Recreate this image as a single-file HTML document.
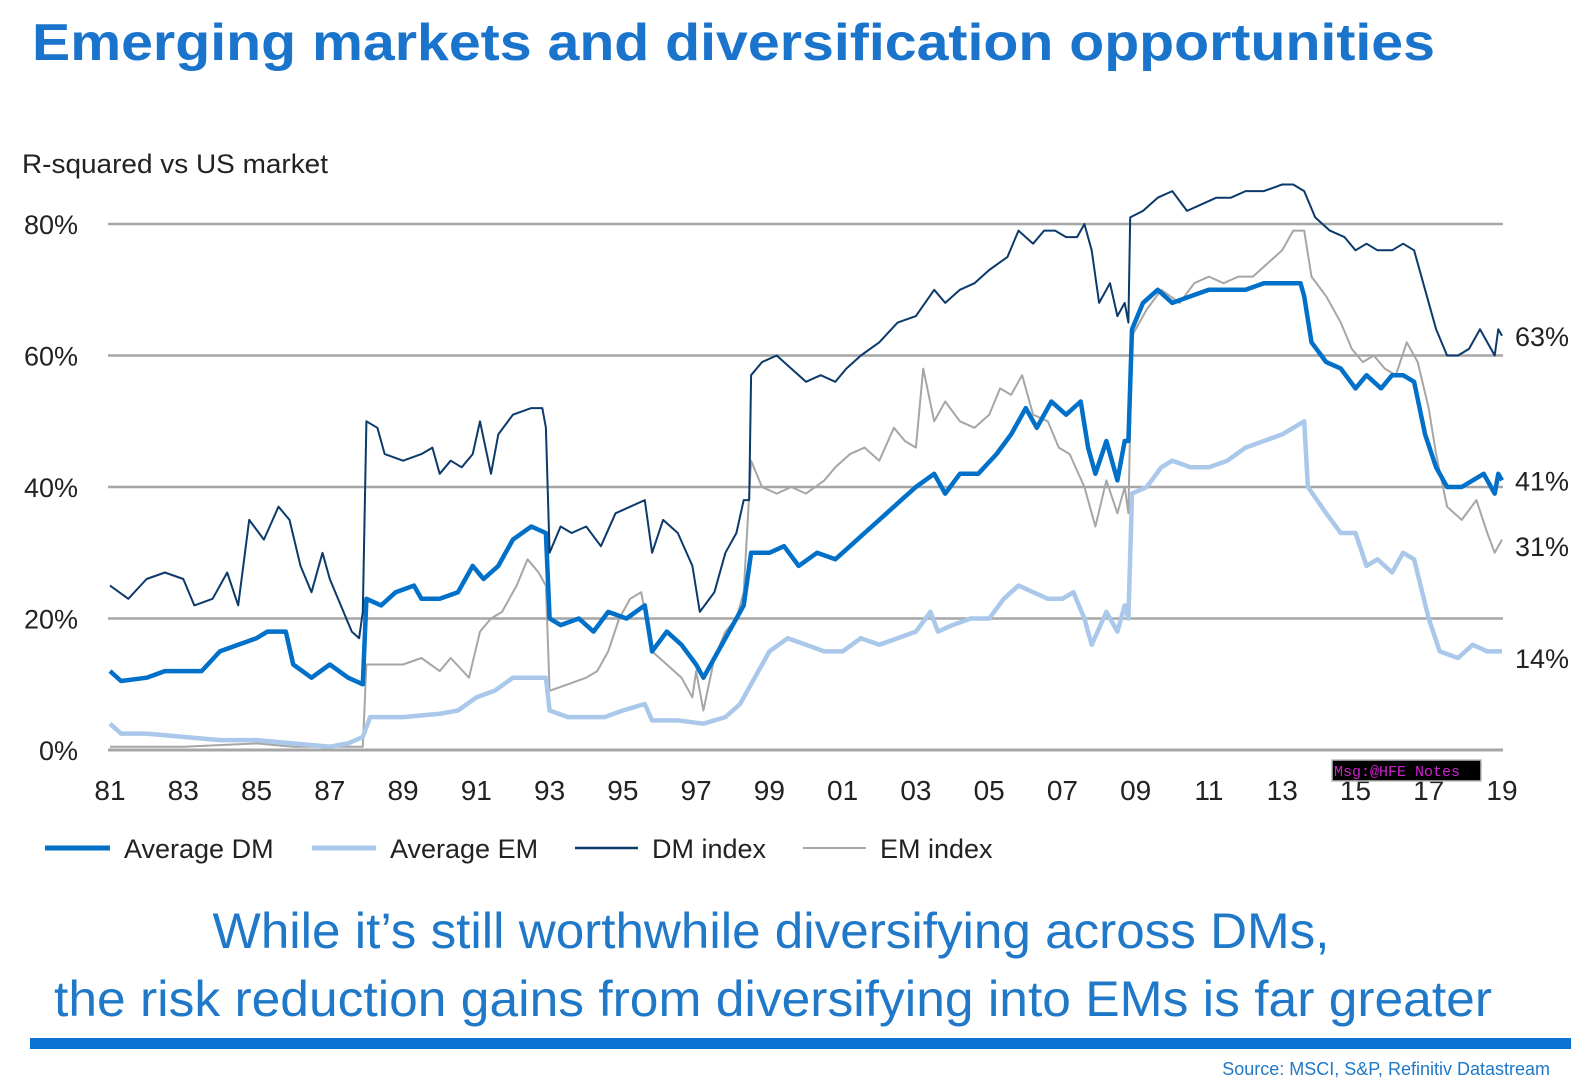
<!DOCTYPE html>
<html><head><meta charset="utf-8"><style>
html,body{margin:0;padding:0;background:#fff;width:1571px;height:1088px;overflow:hidden}
svg{display:block}
text{font-family:"Liberation Sans",sans-serif}
</style></head><body>
<svg id="chart" width="1571" height="1088" xmlns="http://www.w3.org/2000/svg">
<text x="32" y="60" font-size="52" font-weight="bold" fill="#1a74cc" textLength="1403" lengthAdjust="spacingAndGlyphs">Emerging markets and diversification opportunities</text>
<text x="22" y="173" font-size="27" fill="#222" textLength="306" lengthAdjust="spacingAndGlyphs">R-squared vs US market</text>
<g id="grid"></g>
<g id="yticks"></g>
<g id="xticks"></g>
<g id="series"></g>
<g id="endlabels"></g>
<g>
<line x1="45" y1="848" x2="110" y2="848" stroke="#0070c8" stroke-width="5"/>
<text x="124" y="858" font-size="27" fill="#222">Average DM</text>
<line x1="312" y1="848" x2="376" y2="848" stroke="#a9c8ea" stroke-width="5"/>
<text x="390" y="858" font-size="27" fill="#222">Average EM</text>
<line x1="575" y1="848" x2="638" y2="848" stroke="#0b3a6b" stroke-width="2.5"/>
<text x="652" y="858" font-size="27" fill="#222">DM index</text>
<line x1="803" y1="848" x2="866" y2="848" stroke="#a6a6a6" stroke-width="2"/>
<text x="880" y="858" font-size="27" fill="#222">EM index</text>
</g>
<rect x="1332" y="760" width="149" height="21" fill="#000" stroke="#bbb" stroke-width="1.5"/>
<text x="1334" y="776" font-size="15" fill="#d020d0" style="font-family:'Liberation Mono',monospace">Msg:@HFE Notes</text>
<text x="771" y="948" text-anchor="middle" font-size="50" fill="#1f78c8" textLength="1117" lengthAdjust="spacingAndGlyphs">While it’s still worthwhile diversifying across DMs,</text>
<text x="773" y="1016" text-anchor="middle" font-size="50" fill="#1f78c8" textLength="1438" lengthAdjust="spacingAndGlyphs">the risk reduction gains from diversifying into EMs is far greater</text>
<rect x="30" y="1038" width="1541" height="11" fill="#0a72d0"/>
<text x="1550" y="1075" text-anchor="end" font-size="18" fill="#1f78c8">Source: MSCI, S&amp;P, Refinitiv Datastream</text>
</svg>
<script>
const yTickVals=[0,20,40,60,80];
const xTickYears=[1981,1983,1985,1987,1989,1991,1993,1995,1997,1999,2001,2003,2005,2007,2009,2011,2013,2015,2017,2019];
const xTickLabels=["81","83","85","87","89","91","93","95","97","99","01","03","05","07","09","11","13","15","17","19"];
const endLabelVals=[63,41,31,14];
const endLabelText=["63%","41%","31%","14%"];

const dmIdxYears=[1981,1981.5,1982,1982.5,1983,1983.3,1983.8,1984.2,1984.5,1984.8,1985.2,1985.6,1985.9,1986.2,1986.5,1986.8,1987,1987.3,1987.6,1987.8,1987.9,1988,1988.3,1988.5,1989,1989.5,1989.8,1990,1990.3,1990.6,1990.9,1991.1,1991.4,1991.6,1992,1992.5,1992.8,1992.9,1993,1993.3,1993.6,1994,1994.4,1994.8,1995.2,1995.6,1995.8,1996.1,1996.5,1996.9,1997.1,1997.5,1997.8,1998.1,1998.3,1998.45,1998.5,1998.8,1999.2,1999.6,2000,2000.4,2000.8,2001.1,2001.5,2002,2002.5,2003,2003.5,2003.8,2004.2,2004.6,2005,2005.5,2005.8,2006.2,2006.5,2006.8,2007.1,2007.4,2007.6,2007.8,2008,2008.3,2008.5,2008.7,2008.8,2008.85,2009.2,2009.6,2010,2010.4,2010.8,2011.2,2011.6,2012,2012.5,2013,2013.3,2013.6,2013.9,2014.3,2014.7,2015,2015.3,2015.6,2016,2016.3,2016.6,2016.9,2017.2,2017.5,2017.8,2018.1,2018.4,2018.8,2018.9,2019];
const dmIdxVals=[25,23,26,27,26,22,23,27,22,35,32,37,35,28,24,30,26,22,18,17,21,50,49,45,44,45,46,42,44,43,45,50,42,48,51,52,52,49,30,34,33,34,31,36,37,38,30,35,33,28,21,24,30,33,38,38,57,59,60,58,56,57,56,58,60,62,65,66,70,68,70,71,73,75,79,77,79,79,78,78,80,76,68,71,66,68,65,81,82,84,85,82,83,84,84,85,85,86,86,85,81,79,78,76,77,76,76,77,76,70,64,60,60,61,64,60,64,63];

const avgDmYears=[1981,1981.3,1982,1982.5,1983,1983.5,1984,1984.5,1985,1985.3,1985.8,1986,1986.5,1987,1987.5,1987.9,1988,1988.4,1988.8,1989.3,1989.5,1990,1990.5,1990.9,1991.2,1991.6,1992,1992.5,1992.9,1993,1993.3,1993.8,1994.2,1994.6,1995.1,1995.6,1995.8,1996.2,1996.6,1997,1997.2,1997.6,1998,1998.3,1998.5,1999,1999.4,1999.8,2000.3,2000.8,2001.2,2001.6,2002.2,2002.6,2003,2003.5,2003.8,2004.2,2004.7,2005.2,2005.6,2006,2006.3,2006.7,2007.1,2007.5,2007.7,2007.9,2008.2,2008.5,2008.7,2008.8,2008.9,2009.2,2009.6,2010,2010.5,2011,2011.5,2012,2012.5,2013,2013.5,2013.6,2013.8,2014.2,2014.6,2015,2015.3,2015.7,2016,2016.3,2016.6,2016.9,2017.2,2017.5,2017.9,2018.2,2018.5,2018.8,2018.9,2019];
const avgDmVals=[12,10.5,11,12,12,12,15,16,17,18,18,13,11,13,11,10,23,22,24,25,23,23,24,28,26,28,32,34,33,20,19,20,18,21,20,22,15,18,16,13,11,15,19,22,30,30,31,28,30,29,31,33,36,38,40,42,39,42,42,45,48,52,49,53,51,53,46,42,47,41,47,47,64,68,70,68,69,70,70,70,71,71,71,69,62,59,58,55,57,55,57,57,56,48,43,40,40,41,42,39,42,41];

const avgEmYears=[1981,1981.3,1982,1983,1984,1985,1986,1987,1987.5,1987.9,1988.1,1989,1990,1990.5,1991,1991.5,1992,1992.9,1993,1993.5,1994.5,1995,1995.6,1995.8,1996.5,1997.2,1997.8,1998.2,1998.4,1998.5,1999,1999.5,2000,2000.5,2001,2001.5,2002,2002.5,2003,2003.4,2003.6,2004,2004.5,2005,2005.4,2005.8,2006.2,2006.6,2007,2007.3,2007.6,2007.8,2008.2,2008.5,2008.7,2008.8,2008.9,2009.3,2009.7,2010,2010.5,2011,2011.5,2012,2012.5,2013,2013.6,2013.7,2014.2,2014.6,2015,2015.3,2015.6,2016,2016.3,2016.6,2017,2017.3,2017.8,2018.2,2018.6,2019];
const avgEmVals=[4,2.5,2.5,2,1.5,1.5,1,0.5,1,2,5,5,5.5,6,8,9,11,11,6,5,5,6,7,4.5,4.5,4,5,7,9,10,15,17,16,15,15,17,16,17,18,21,18,19,20,20,23,25,24,23,23,24,20,16,21,18,22,20,39,40,43,44,43,43,44,46,47,48,50,40,36,33,33,28,29,27,30,29,20,15,14,16,15,15];

const emIdxYears=[1981,1983,1985,1986,1987,1987.9,1988,1988.5,1989,1989.5,1990,1990.3,1990.8,1991.1,1991.4,1991.7,1992.1,1992.4,1992.7,1992.9,1993,1993.5,1994,1994.3,1994.6,1994.9,1995.2,1995.5,1995.8,1996.2,1996.6,1996.9,1997,1997.2,1997.5,1997.8,1998.1,1998.3,1998.5,1998.8,1999.2,1999.6,2000,2000.5,2000.8,2001.2,2001.6,2002,2002.4,2002.7,2003,2003.2,2003.5,2003.8,2004.2,2004.6,2005,2005.3,2005.6,2005.9,2006.2,2006.6,2006.9,2007.2,2007.6,2007.9,2008.2,2008.5,2008.7,2008.8,2008.9,2009.3,2009.7,2010.2,2010.6,2011,2011.4,2011.8,2012.2,2012.6,2013,2013.3,2013.6,2013.8,2014.2,2014.6,2014.9,2015.2,2015.5,2015.8,2016.1,2016.4,2016.7,2017,2017.2,2017.5,2017.9,2018.3,2018.6,2018.8,2019];
const emIdxVals=[0.5,0.5,1,0.5,0.5,0.5,13,13,13,14,12,14,11,18,20,21,25,29,27,25,9,10,11,12,15,20,23,24,15,13,11,8,12,6,14,18,20,24,44,40,39,40,39,41,43,45,46,44,49,47,46,58,50,53,50,49,51,55,54,57,51,50,46,45,40,34,41,36,40,36,63,67,70,68,71,72,71,72,72,74,76,79,79,72,69,65,61,59,60,58,57,62,59,52,45,37,35,38,33,30,32];

const NS='http://www.w3.org/2000/svg';
function xScale(yr){return 110+(yr-1981)*(1392/38);}
function yScale(v){return 750-v*(526/80);}
function mk(tag,parent){const e=document.createElementNS(NS,tag);parent.appendChild(e);return e;}

const grid=document.getElementById('grid');
const yt=document.getElementById('yticks');
yTickVals.forEach(v=>{
  const l=mk('line',grid);
  
  
  l.setAttribute('x1',108);l.setAttribute('x2',1503);
  l.setAttribute('y1',yScale(v));l.setAttribute('y2',yScale(v));
  l.setAttribute('stroke','#a6a6a6');l.setAttribute('stroke-width',v===0?3:2.5);
  const t=mk('text',yt);
  
  
  t.setAttribute('x',78);t.setAttribute('y',yScale(v)+10);
  t.setAttribute('text-anchor','end');t.setAttribute('font-size','27');t.setAttribute('fill','#222');
  t.textContent=v+'%';
});
const xt=document.getElementById('xticks');
xTickYears.forEach((yr,i)=>{
  const t=mk('text',xt);
  
  
  t.setAttribute('x',xScale(yr));t.setAttribute('y',800);
  t.setAttribute('text-anchor','middle');t.setAttribute('font-size','28');t.setAttribute('fill','#222');
  t.textContent=xTickLabels[i];
});
const sg=document.getElementById('series');
function drawLine(years,vals,color,w,name){
  const p=mk('path',sg);
  
  
  p.setAttribute('d',years.map((yr,i)=>(i?'L':'M')+xScale(yr).toFixed(1)+' '+yScale(vals[i]).toFixed(1)).join(' '));
  p.setAttribute('fill','none');p.setAttribute('stroke',color);p.setAttribute('stroke-width',w);
  p.setAttribute('stroke-linejoin','round');
}
drawLine(emIdxYears,emIdxVals,'#a6a6a6',2,'em-index-line');
drawLine(avgEmYears,avgEmVals,'#a9c8ea',4.5,'average-em-line');
drawLine(avgDmYears,avgDmVals,'#0070c8',4.5,'average-dm-line');
drawLine(dmIdxYears,dmIdxVals,'#0b3a6b',2,'dm-index-line');
const el=document.getElementById('endlabels');
endLabelVals.forEach((v,i)=>{
  const t=mk('text',el);
  
  
  t.setAttribute('x',1515);t.setAttribute('y',yScale(v)+10);
  t.setAttribute('font-size','27');t.setAttribute('fill','#222');
  t.textContent=endLabelText[i];
});
</script>
</body></html>
